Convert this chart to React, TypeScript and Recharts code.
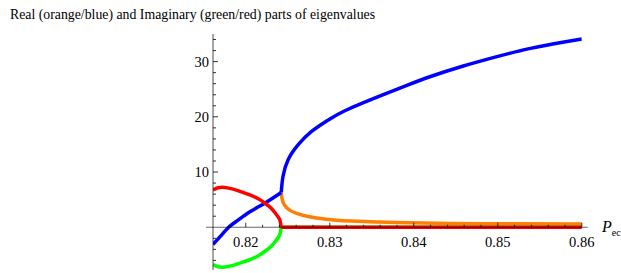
import React from 'react'
import { LineChart, Line, XAxis, YAxis, ReferenceLine } from 'recharts'

// eigenvalue parts vs P_ec
// blue: real part before the split, then the upper real root
const bluePreP = [0.8161, 0.817, 0.81797, 0.819, 0.8205, 0.8223, 0.82422]
const bluePreV = [-3.1, -1.6, 0, 1.2, 2.8, 4.4, 6.3]
const bluePostP = [0.82422, 0.82443, 0.82503, 0.82622, 0.8278, 0.8298, 0.8318, 0.8357, 0.8391, 0.842, 0.8459, 0.8499, 0.8539, 0.8579, 0.86]
const bluePostV = [6.3, 9.2, 12.2, 14.9, 17.3, 19.4, 21.1, 23.6, 25.65, 27.3, 29.2, 30.9, 32.4, 33.55, 34.1]

// orange: lower real root
const orangeP = [0.82422, 0.82431, 0.82459, 0.82518, 0.82598, 0.82756, 0.82955, 0.83154, 0.8355, 0.8379, 0.8443, 0.8526, 0.86]
const orangeV = [6.3, 5.25, 4.05, 3.15, 2.55, 1.9, 1.45, 1.2, 0.96, 0.85, 0.7, 0.62, 0.58]

// red / green: +/- imaginary part (an arc up to the split, zero after it)
const imagArcP = [0.8161, 0.8167, 0.8175, 0.8185, 0.8195, 0.8205, 0.8215, 0.8223, 0.823, 0.8235, 0.8239, 0.8241, 0.82422]
const redArcV = [6.75, 7.15, 7.2, 6.9, 6.4, 5.85, 5.15, 4.35, 3.5, 2.6, 1.77, 1.08, 0]
const greenArcV = [-6.75, -7.15, -7.2, -6.9, -6.4, -5.85, -5.15, -4.35, -3.5, -2.6, -1.77, -1.08, 0]
const imagFlatP = [0.82422, 0.86]
const imagFlatV = [0, 0]

const xTicks = [0.818, 0.82, 0.822, 0.824, 0.826, 0.828, 0.83, 0.832, 0.834, 0.836, 0.838, 0.84, 0.842, 0.844, 0.846, 0.848, 0.85, 0.852, 0.854, 0.856, 0.858, 0.86]
const xTickLabels = ['0.82', '0.83', '0.84', '0.85', '0.86']
const yTicks = [-6, -4, -2, 2, 4, 6, 8, 10, 12, 14, 16, 18, 20, 22, 24, 26, 28, 30, 32, 34]
const yTickLabels = ['10', '20', '30']

const xDomain = [0.8161, 0.86]
const yDomain = [-7.74, 35]

const W = 621
const H = 273
// axes are 1px wide/high, so the plot box runs x 213..581.8, y 34..270
const margin = { top: 34, right: 39.2, bottom: 2, left: 212 }
const plotTop = 34
const plotH = 236
// pixel row of y = 0, where the horizontal axis crosses
const zeroY = plotTop + (yDomain[1] / (yDomain[1] - yDomain[0])) * plotH

const font = '"Liberation Serif", "Times New Roman", serif'
const axisColor = '#000'

const toPoints = (ps: number[], vs: number[]) => ps.map((p, i) => ({ p, v: vs[i] }))

const XTick = ({ x, payload }: any) => {
  const label = String(payload.value)
  const major = xTickLabels.includes(label)
  return (
    <g>
      <line x1={x} x2={x} y1={zeroY} y2={zeroY - (major ? 4.5 : 2.5)} stroke={axisColor} strokeWidth={0.8} />
      {major && (
        <text x={x} y={zeroY + 20} textAnchor="middle" fontFamily={font} fontSize={14.5} fill="#000">
          {label}
        </text>
      )}
    </g>
  )
}

const YTick = ({ x, y, payload }: any) => {
  const label = String(payload.value)
  const major = yTickLabels.includes(label)
  return (
    <g>
      <line x1={x} x2={x + (major ? 5 : 3)} y1={y} y2={y} stroke={axisColor} strokeWidth={0.8} />
      {major && (
        <text x={x - 4} y={y + 5} textAnchor="end" fontFamily={font} fontSize={14.5} fill="#000">
          {label}
        </text>
      )}
    </g>
  )
}

const curve = (ps: number[], vs: number[], color: string, type: 'natural' | 'linear' = 'natural') => (
  <Line
    data={toPoints(ps, vs)}
    dataKey="v"
    type={type}
    stroke={color}
    strokeWidth={3.5}
    dot={false}
    activeDot={false}
    isAnimationActive={false}
  />
)

export default function App() {
  return (
    <div style={{ position: 'relative', width: W, height: H, background: '#fff' }}>
      <style>{'body{margin:0}'}</style>
      <LineChart width={W} height={H} margin={margin}>
        <XAxis
          type="number"
          dataKey="p"
          domain={xDomain}
          allowDataOverflow
          ticks={xTicks}
          interval={0}
          height={1}
          tickSize={0}
          tickMargin={0}
          axisLine={false}
          tickLine={false}
          tick={(props: any) => <XTick {...props} />}
        />
        <YAxis
          type="number"
          domain={yDomain}
          allowDataOverflow
          ticks={yTicks}
          interval={0}
          width={1}
          tickSize={0}
          tickMargin={0}
          axisLine={{ stroke: axisColor, strokeOpacity: 0.7 }}
          tickLine={false}
          tick={(props: any) => <YTick {...props} />}
        />
        {curve(orangeP, orangeV, '#ff8000')}
        {curve(bluePreP, bluePreV, '#0000ff')}
        {curve(bluePostP, bluePostV, '#0000ff')}
        {curve(imagArcP, greenArcV, '#00ff00')}
        {curve(imagFlatP, imagFlatV, '#00ff00', 'linear')}
        {curve(imagArcP, redArcV, '#ff0000')}
        {curve(imagFlatP, imagFlatV, '#ff0000', 'linear')}
        <ReferenceLine
          segment={[{ x: 0.81527, y: 0 }, { x: 0.86071, y: 0 }]}
          ifOverflow="visible"
          stroke={axisColor}
          strokeOpacity={0.6}
        />
      </LineChart>
      <svg width={W} height={H} style={{ position: 'absolute', left: 0, top: 0, pointerEvents: 'none' }}>
        <text x={10} y={19} fontFamily={font} fontSize={13.8} fill="#000">
          Real (orange/blue) and Imaginary (green/red) parts of eigenvalues
        </text>
        <text x={602} y={232} fontFamily={font} fontSize={16} fill="#000">
          <tspan fontStyle="italic">P</tspan>
          <tspan fontSize={10} dy={4}>ec</tspan>
        </text>
      </svg>
    </div>
  )
}
